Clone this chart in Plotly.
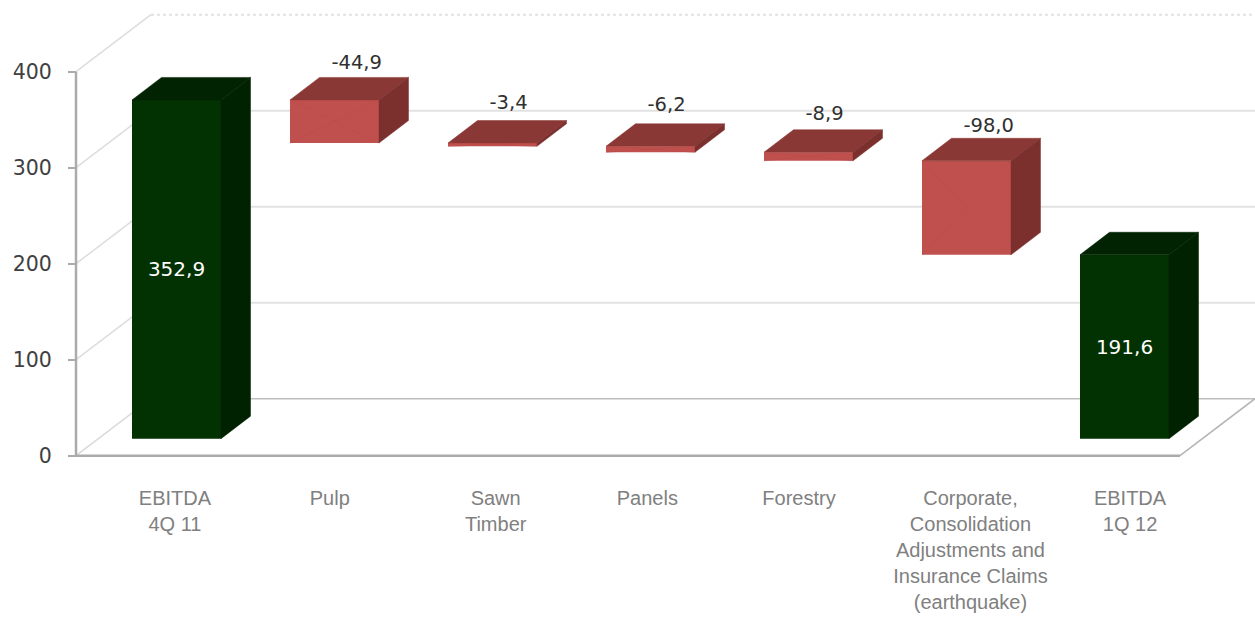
import plotly.graph_objects as go

categories = ["EBITDA<br>4Q 11", "Pulp", "Sawn<br>Timber", "Panels", "Forestry",
              "Corporate,<br>Consolidation<br>Adjustments and<br>Insurance Claims<br>(earthquake)",
              "EBITDA<br>1Q 12"]
opening = 352.9
deltas = [-44.9, -3.4, -6.2, -8.9, -98.0]
closing = 191.6
value_tick_labels = [0, 100, 200, 300, 400]
category_tick_offsets = [-0.01, -0.03, 0.02, -0.02, -0.06, 0.025, 0.035]
delta_label_gaps_px = [36.2, 38.5, 40.2, 37.2, 33.7]

# --- geometry of the pseudo-3D projection (pixels on the 1255x618 page)
W, H = 1255, 618
PX_X = 158.0        # px per category
PX_Y = 0.96         # px per value unit
X0_PX = 176.5       # px position of first category
Y0_PX = 455.7       # px position of value 0
def du(px): return px / PX_X
def dv(px): return px / PX_Y

BAR_W = du(89)
BAR_DX, BAR_DY = du(29.5), dv(22.5)
LIFT = dv(17)
WALL_DX, WALL_DY = du(75), dv(57)
XL = du(76 - X0_PX)
XR = du(1180 - X0_PX)

GREEN_F, GREEN_T, GREEN_S = "#023202", "#012301", "#012201"
RED_F, RED_T, RED_S = "#C0504D", "#8A3835", "#7B302E"

# --- derive bar extents
lows, highs = [0.0], [opening]
run = opening
for d in deltas:
    lows.append(run + d)
    highs.append(run)
    run += d
lows.append(0.0)
highs.append(closing)
is_total = [True] + [False] * len(deltas) + [True]
xs = list(range(len(categories)))
fmt = lambda v: f"{v:.1f}".replace(".", ",")


def faces(total, kind):
    px, py = [], []
    for i in xs:
        if is_total[i] != total:
            continue
        l, r = i - BAR_W / 2, i + BAR_W / 2
        lo, hi = lows[i] + LIFT, highs[i] + LIFT
        if kind == "top":
            px += [l, r, r + BAR_DX, l + BAR_DX, l, None]
            py += [hi, hi, hi + BAR_DY, hi + BAR_DY, hi, None]
        else:
            px += [r, r + BAR_DX, r + BAR_DX, r, r, None]
            py += [lo, lo + BAR_DY, hi + BAR_DY, hi, lo, None]
    return px, py


fig = go.Figure()

fig.add_trace(go.Bar(
    x=xs,
    y=[highs[i] - lows[i] for i in xs],
    base=[lows[i] + LIFT for i in xs],
    width=BAR_W,
    marker=dict(color=[GREEN_F if t else RED_F for t in is_total], line=dict(width=0)),
    text=[fmt(highs[i]) if is_total[i] else "" for i in xs],
    textposition="inside",
    insidetextanchor="middle",
    textangle=0,
    textfont=dict(family="DejaVu Sans", size=20, color="white"),
    hoverinfo="skip",
))

for total, kind, col in [(True, "top", GREEN_T), (True, "side", GREEN_S),
                         (False, "top", RED_T), (False, "side", RED_S)]:
    px, py = faces(total, kind)
    fig.add_trace(go.Scatter(x=px, y=py, mode="lines", fill="toself", fillcolor=col,
                             line=dict(width=0.5, color=col), hoverinfo="skip"))

# faint diagonals on the red faces
dx_, dy_ = [], []
for i in xs:
    if not is_total[i]:
        l, r = i - BAR_W / 2, i + BAR_W / 2
        lo, hi = lows[i] + LIFT, highs[i] + LIFT
        dx_ += [l, r, None, l, r, None]
        dy_ += [hi, lo, None, lo, hi, None]
fig.add_trace(go.Scatter(x=dx_, y=dy_, mode="lines",
                         line=dict(width=0.6, color="#B84C49"), hoverinfo="skip"))

# delta labels above the red boxes
neg = [i for i in xs if not is_total[i]]
fig.add_trace(go.Scatter(
    x=[i - du(3) for i in neg],
    y=[highs[i] + LIFT + dv(g) for i, g in zip(neg, delta_label_gaps_px)],
    mode="text",
    text=[fmt(deltas[k]) for k in range(len(deltas))],
    textposition="middle right",
    textfont=dict(family="DejaVu Sans", size=19.5, color="#303030"),
    hoverinfo="skip",
))

# walls and floor, below the bars
shapes = []
def seg(x0, y0, x1, y1, color, width, dash="solid"):
    shapes.append(dict(type="line", layer="below", xref="x", yref="y",
                       x0=x0, y0=y0, x1=x1, y1=y1,
                       line=dict(color=color, width=width, dash=dash)))

for v in value_tick_labels:
    if v == 0:
        seg(XL + WALL_DX, WALL_DY, XR + WALL_DX, WALL_DY, "#BDBDBD", 1.5)
        seg(XL, 0, XL + WALL_DX, WALL_DY, "#DADADA", 1.5)
    else:
        dash = "dot" if v == 400 else "solid"
        seg(XL + WALL_DX, v + WALL_DY, XR + WALL_DX, v + WALL_DY, "#E2E2E2", 2, dash)
        seg(XL, v, XL + WALL_DX, v + WALL_DY, "#DDDDDD", 1.5)
seg(XR, 0, XR + WALL_DX, WALL_DY, "#B5B5B5", 1.5)
seg(XL, 0, XR, 0, "#ABABAB", 2.5)
seg(XL, 0, XL, 400, "#ABABAB", 2.5)

fig.update_layout(
    width=W, height=H,
    margin=dict(l=0, r=0, t=0, b=0),
    paper_bgcolor="white", plot_bgcolor="white",
    showlegend=False,
    shapes=shapes,
    xaxis=dict(
        range=[du(0 - X0_PX), du(W - X0_PX)],
        anchor="free", position=(H - Y0_PX) / H,
        showgrid=False, zeroline=False, showline=False,
        tickmode="array",
        tickvals=[i + o for i, o in zip(xs, category_tick_offsets)],
        ticktext=categories,
        ticks="", tickangle=0,
        ticklabelstandoff=28,
        tickfont=dict(family="Liberation Sans", size=20, color="#808080"),
    ),
    yaxis=dict(
        range=[dv(Y0_PX - H), dv(Y0_PX)],
        anchor="free", position=76 / W,
        showgrid=False, zeroline=False, showline=False,
        tickmode="array",
        tickvals=value_tick_labels,
        ticktext=[str(v) for v in value_tick_labels],
        ticks="outside", ticklen=8, tickwidth=1.5, tickcolor="#ABABAB",
        ticklabelstandoff=12,
        tickfont=dict(family="DejaVu Sans", size=20.5, color="#404040"),
    ),
)

fig.write_html("out.html", config={"displayModeBar": False},
               post_script="document.body.style.margin='0';document.body.style.overflow='hidden';")
